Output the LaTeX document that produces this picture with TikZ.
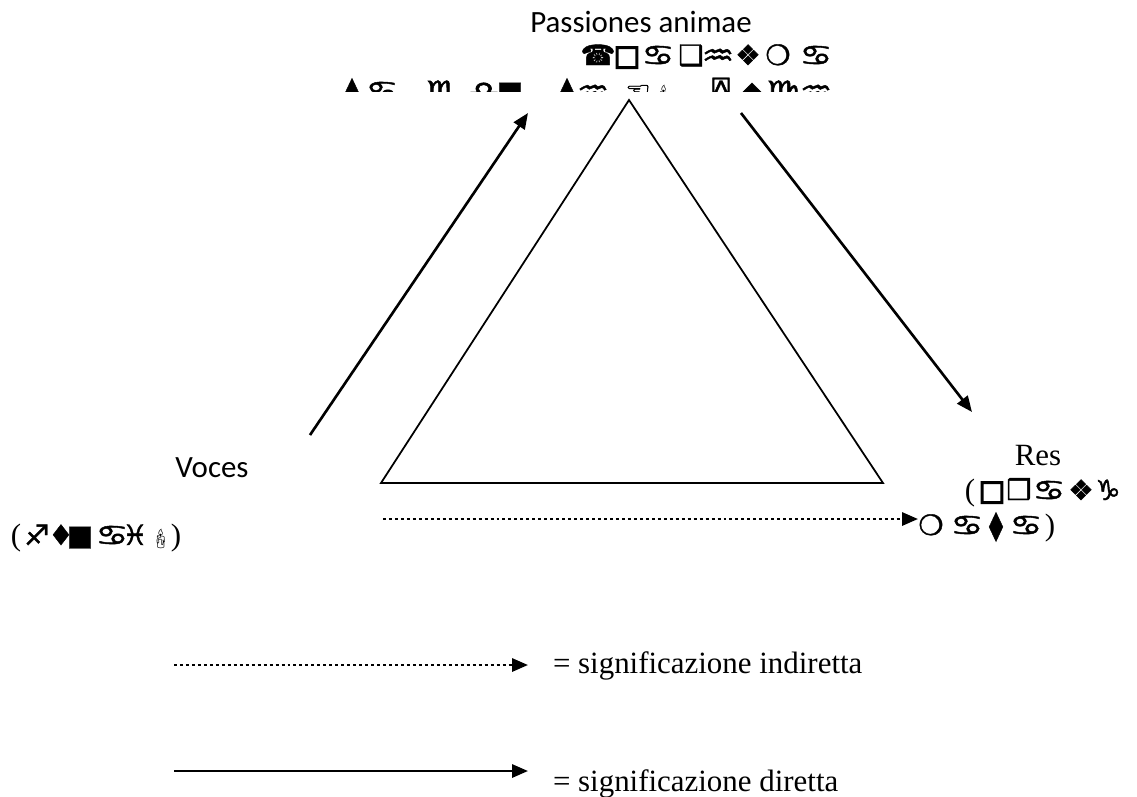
\documentclass[tikz,border=0pt]{standalone}
\usepackage{fontspec}
\usepackage{graphicx}
\setmainfont{Liberation Serif}
\newfontfamily\calibri{Carlito}
\newfontfamily\dingfont[FakeBold=1.5]{DejaVu Sans}
\newfontfamily\dingheavy[FakeBold=5]{DejaVu Sans}
\newfontfamily\dingmono[FakeBold=1.5]{DejaVu Sans Mono}
\newfontfamily\emojifont{Noto Emoji}
\usetikzlibrary{arrows.meta}
\newcommand\rmpar[1]{{\fontsize{17.6pt}{21pt}\selectfont\rmfamily #1}}
\newcommand\zd[1]{\scalebox{1.3}[1.0]{#1}}
\newcommand\bsq{{\dingheavy □}}
\newcommand\candle{{\emojifont\fontsize{11pt}{11pt}\selectfont 🕯}}

\begin{document}
\begin{tikzpicture}[x=0.02cm, y=-0.02cm]
\tikzset{ >={Triangle[length=9pt,width=7.4pt]}, inner sep=0pt, outer sep=0pt,
  txt/.style={anchor=base, font=\fontsize{17.6pt}{21pt}\selectfont},
  glyph/.style={anchor=base, font=\fontsize{16pt}{20pt}\selectfont\dingfont},
  direct/.style={->, line width=1.5pt},
  indirect/.style={->, line width=1.5pt, dash pattern=on 1.7pt off 1.7pt},
}
\useasboundingbox (0,0) rectangle (1137,796);

%\draw [lightgray, dashed] (0,0) grid[step=50] (1137,796);

\coordinate (A) at (629,100);
\coordinate (B) at (381,483);
\coordinate (C) at (883,483);

\coordinate (vs) at (310,435);
\coordinate (vt) at (528,113);
\coordinate (rs) at (741,113);
\coordinate (rt) at (972,412);
\coordinate (is) at (383,519);
\coordinate (it) at (918,519);

\coordinate (ds) at (174,665);
\coordinate (dt) at (528,665);
\coordinate (ss) at (174,771);
\coordinate (st) at (528,771);

\draw [line width=1pt] (A) -- (B) -- (C) -- cycle;

\draw [direct]   (vs) -- (vt);
\draw [direct]   (rs) -- (rt);
\draw [indirect] (is) -- (it);

\node [txt] (PA) at (641,32) {\calibri Passiones animae};
\foreach \x/\g [count=\i] in {598/☎,627/\bsq,658/\zd{♋},691/❑,718/\zd{♒},748/❖,778/❍,816/\zd{♋}}
  \node [glyph] (pa2-\i) at (\x,65) {\g};
\begin{scope}
\clip (0,0) rectangle (1137,91);
\foreach \x/\g [count=\i] in {352/⧫,382/\zd{♋},443/\zd{♏},484/\zd{♎},510/■,567/⧫,593/\zd{♒},638/☜,664/\candle,721/{\dingmono ⍓},752/◆,783/\zd{♍},816/\zd{♒}}
  \node [glyph] (pa3-\i) at (\x,101) {\g};
\end{scope}

\node [txt] (V) at (212,477) {\calibri Voces};
\foreach \x/\g [count=\i] in {16/\rmpar{(},37/♐,61/♦,80/■,112/\zd{♋},135/♓,161/\candle,176/\rmpar{)}}
  \node [glyph] (vg-\i) at (\x,545) {\g};

\node [txt] (R) at (1038,465) {Res};
\foreach \x/\g [count=\i] in {970/\rmpar{(},992/\bsq,1019/❒,1049/\zd{♋},1081/❖,1108/♑}
  \node [glyph] (rg-\i) at (\x,500) {\g};
\foreach \x/\g [count=\i] in {931/❍,967/\zd{♋},996/⧫,1026/\zd{♋},1050/\rmpar{)}}
  \node [glyph] (rh-\i) at (\x,535) {\g};

\draw [indirect] (ds) -- (dt);
\draw [direct]   (ss) -- (st);

\node [txt, anchor=base west] (ind) at (553,673) {= significazione indiretta};
\node [txt, anchor=base west] (dir) at (553,791) {= significazione diretta};

\end{tikzpicture}
\end{document}
